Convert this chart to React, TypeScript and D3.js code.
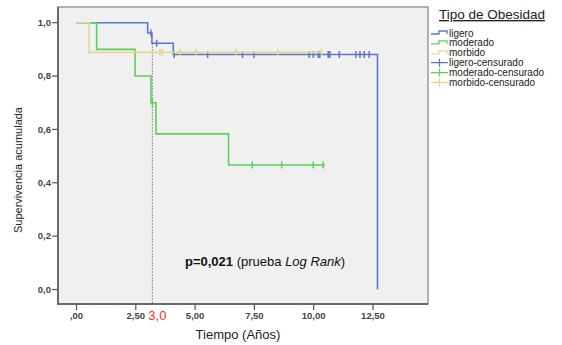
import React, { useRef, useEffect } from "react";
import * as d3 from "d3";

// Kaplan-Meier steps: [time, survival after that time]
const ligeroSteps: [number, number][] = [[0, 1], [3.0, 0.9615], [3.18, 0.9231], [4.08, 0.881], [12.69, 0]];
const moderadoSteps: [number, number][] = [[0, 1], [0.85, 0.9], [2.47, 0.8], [3.14, 0.7], [3.35, 0.5833], [6.41, 0.4667], [10.47, 0.4667]];
const morbidoSteps: [number, number][] = [[0, 1], [0.53, 0.8889], [10.36, 0.8889]];

const ligeroCensored = [3.14, 3.38, 4.12, 5.53, 7.0, 7.48, 9.81, 9.98, 10.19, 10.26, 10.61, 10.68, 11.08, 11.78, 11.95, 12.13, 12.34];
const moderadoCensored = [3.2, 7.41, 8.65, 9.98, 10.4];
const morbidoCensored = [3.52, 3.62, 4.36, 5.04, 6.72, 8.48, 10.33];

const xTicks = [0, 2.5, 5, 7.5, 10, 12.5];
const xTickLabels = [",00", "2,50", "5,00", "7,50", "10,00", "12,50"];
const yTicks = [0, 0.2, 0.4, 0.6, 0.8, 1.0];
const yTickLabels = ["0,0", "0,2", "0,4", "0,6", "0,8", "1,0"];

const legendLabels = ["ligero", "moderado", "morbido", "ligero-censurado", "moderado-censurado", "morbido-censurado"];
const groupColors = ["#6274c8", "#5ccf5c", "#e2d892"];

const cutTime = 3.2;

const App = () => {
  const svgRef = useRef<SVGSVGElement>(null);

  useEffect(() => {
    const svg = d3.select(svgRef.current);
    svg.selectAll("*").remove();

    const width = 562;
    const height = 345;
    const box = { left: 58, top: 7, right: 428, bottom: 304 };

    svg.attr("width", width).attr("height", height);

    const x = d3.scaleLinear().domain([0, 12.5]).range([76.5, 373]);
    const y = d3.scaleLinear().domain([0, 1]).range([289.5, 22.7]);

    const font = "Liberation Sans, Arial, sans-serif";

    svg.append("rect").attr("width", width).attr("height", height).attr("fill", "#ffffff");

    // plot frame
    svg.append("rect")
      .attr("x", box.left).attr("y", box.top)
      .attr("width", box.right - box.left).attr("height", box.bottom - box.top)
      .attr("fill", "#f0f0f0")
      .attr("stroke", "#9a9a9a")
      .attr("stroke-width", 1.5);
    svg.append("path")
      .attr("d", `M${box.left},${box.top}V${box.bottom}H${box.right}`)
      .attr("fill", "none")
      .attr("stroke", "#6a6a6a")
      .attr("stroke-width", 2);

    // y axis ticks
    yTicks.forEach((t, i) => {
      svg.append("line")
        .attr("x1", box.left - 6).attr("x2", box.left)
        .attr("y1", y(t)).attr("y2", y(t))
        .attr("stroke", "#555").attr("stroke-width", 1.2);
      svg.append("text")
        .attr("x", box.left - 7).attr("y", y(t)).attr("dy", "0.35em")
        .attr("text-anchor", "end")
        .style("font-family", font).style("font-size", "9.5px").style("font-weight", "bold")
        .attr("fill", "#444")
        .text(yTickLabels[i]);
    });

    // x axis ticks
    xTicks.forEach((t, i) => {
      svg.append("line")
        .attr("x1", x(t)).attr("x2", x(t))
        .attr("y1", box.bottom).attr("y2", box.bottom + 6)
        .attr("stroke", "#555").attr("stroke-width", 1.2);
      svg.append("text")
        .attr("x", x(t)).attr("y", 319)
        .attr("text-anchor", "middle")
        .style("font-family", font).style("font-size", "9.5px").style("font-weight", "bold")
        .attr("fill", "#444")
        .text(xTickLabels[i]);
    });

    // cut line at ~3 years
    svg.append("line")
      .attr("x1", x(cutTime)).attr("x2", x(cutTime))
      .attr("y1", y(0.923)).attr("y2", box.bottom)
      .attr("stroke", "#888").attr("stroke-width", 1.2)
      .attr("stroke-dasharray", "1.5,1.5");
    svg.append("text")
      .attr("x", x(cutTime) + 5).attr("y", 320)
      .attr("text-anchor", "middle")
      .style("font-family", font).style("font-size", "13px")
      .attr("fill", "#ff2a2a")
      .text("3,0");

    const stepLine = d3.line<[number, number]>()
      .x(d => x(d[0]))
      .y(d => y(d[1]))
      .curve(d3.curveStepAfter);

    const survivalAt = (steps: [number, number][], t: number) => {
      let s = steps[0][1];
      steps.forEach(d => { if (d[0] <= t) s = d[1]; });
      return s;
    };

    const groups = [
      { steps: ligeroSteps, censored: ligeroCensored, color: groupColors[0] },
      { steps: moderadoSteps, censored: moderadoCensored, color: groupColors[1] },
      { steps: morbidoSteps, censored: morbidoCensored, color: groupColors[2] },
    ];

    groups.forEach(g => {
      svg.append("path")
        .attr("d", stepLine(g.steps))
        .attr("fill", "none")
        .attr("stroke", g.color)
        .attr("stroke-width", 1.6);
      svg.selectAll(null)
        .data(g.censored)
        .enter()
        .append("line")
        .attr("x1", d => x(d)).attr("x2", d => x(d))
        .attr("y1", d => y(survivalAt(g.steps, d)) - 3.5)
        .attr("y2", d => y(survivalAt(g.steps, d)) + 3.5)
        .attr("stroke", g.color)
        .attr("stroke-width", 1.5);
    });

    // p value annotation
    const p = svg.append("text")
      .attr("x", 185).attr("y", 266)
      .style("font-family", font).style("font-size", "13px")
      .attr("fill", "#111");
    p.append("tspan").style("font-weight", "bold").text("p=0,021");
    p.append("tspan").text(" (prueba ");
    p.append("tspan").style("font-style", "italic").text("Log Rank");
    p.append("tspan").text(")");

    // axis titles
    svg.append("text")
      .attr("x", 238).attr("y", 339)
      .attr("text-anchor", "middle")
      .style("font-family", font).style("font-size", "13px")
      .attr("fill", "#222")
      .text("Tiempo (Años)");
    svg.append("text")
      .attr("transform", "translate(22,170) rotate(-90)")
      .attr("text-anchor", "middle")
      .style("font-family", font).style("font-size", "11px")
      .attr("fill", "#222")
      .text("Supervivencia acumulada");

    // legend
    const lg = svg.append("g").attr("transform", "translate(431,0)");
    lg.append("text")
      .attr("x", 8).attr("y", 19)
      .style("font-family", font).style("font-size", "13.5px")
      .style("text-decoration", "underline")
      .attr("fill", "#222")
      .text("Tipo de Obesidad");

    legendLabels.forEach((label, i) => {
      const cy = 33 + i * 9.9;
      const color = groupColors[i % 3];
      if (i < 3) {
        lg.append("path")
          .attr("d", `M0,${cy + 1}H8V${cy - 2}H16V${cy + 1}`)
          .attr("fill", "none")
          .attr("stroke", color)
          .attr("stroke-width", 1.3);
      } else {
        lg.append("path")
          .attr("d", `M0,${cy}H17M8.5,${cy - 4}V${cy + 4}`)
          .attr("fill", "none")
          .attr("stroke", color)
          .attr("stroke-width", 1.3);
      }
      lg.append("text")
        .attr("x", 18).attr("y", cy).attr("dy", "0.35em")
        .style("font-family", font).style("font-size", "10px")
        .attr("fill", "#222")
        .text(label);
    });
  }, []);

  return (
    <div style={{ position: "absolute", left: 0, top: 0 }}>
      <svg ref={svgRef} style={{ display: "block" }}></svg>
    </div>
  );
};

export default App;
